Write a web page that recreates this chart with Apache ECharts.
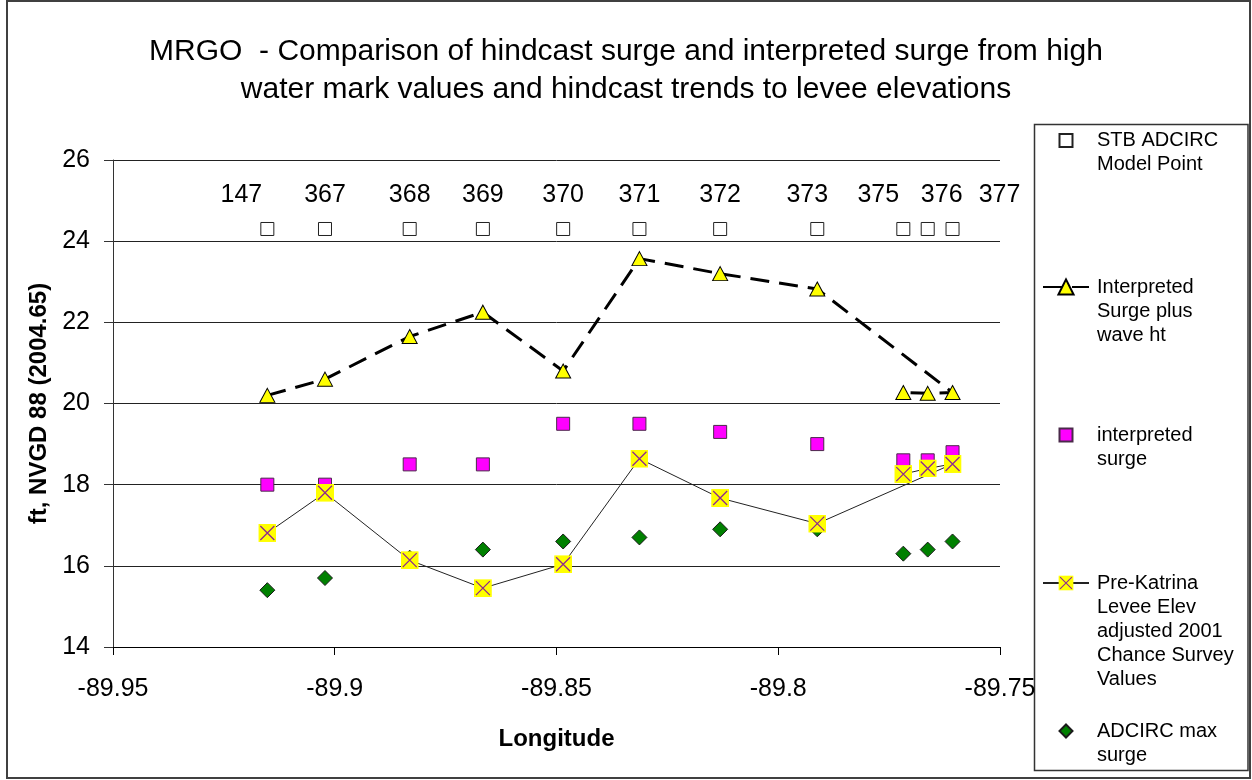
<!DOCTYPE html>
<html>
<head>
<meta charset="utf-8">
<script src="https://cdn.jsdelivr.net/npm/echarts@6/dist/echarts.min.js"></script>
<style>
html,body{margin:0;padding:0;background:#fff;}
#chart{width:1252px;height:780px;}
</style>
</head>
<body>
<div id="chart"></div>
<script>
// ---- data, in spreadsheet order ----
const longitude   = [-89.9152, -89.9022, -89.8831, -89.8666, -89.8485, -89.8313, -89.8131, -89.7912, -89.7607, -89.7663, -89.7718];
const stations    = ['147', '367', '368', '369', '370', '371', '372', '373', '377', '376', '375'];
const stbPoint    = [24.3, 24.3, 24.3, 24.3, 24.3, 24.3, 24.3, 24.3, 24.3, 24.3, 24.3];
const surgeWave   = [20.2, 20.6, 21.65, 22.25, 20.8, 23.57, 23.2, 22.82, 20.27, 20.25, 20.27];
const interpSurge = [18.0, 18.0, 18.5, 18.5, 19.5, 19.5, 19.3, 19.0, 18.8, 18.6, 18.6];
const leveeElev   = [16.81, 17.8, 16.14, 15.45, 16.04, 18.64, 17.67, 17.04, 18.51, 18.4, 18.26];
const adcircMax   = [15.4, 15.7, 16.2, 16.4, 16.6, 16.7, 16.9, 16.9, 16.6, 16.4, 16.3];
const seriesNames = [
  'STB ADCIRC\nModel Point',
  'Interpreted\nSurge plus\nwave ht',
  'interpreted\nsurge',
  'Pre-Katrina\nLevee Elev\nadjusted 2001\nChance Survey\nValues',
  'ADCIRC max\nsurge'
];
const titleText = 'MRGO  - Comparison of hindcast surge and interpreted surge from high\nwater mark values and hindcast trends to levee elevations';

// ---- styling helpers ----
const FONT = '"Liberation Sans", Arial, sans-serif';
const labelShift = {'147': -26, '373': -10, '375': -25, '376': 14, '377': 47};
const pairs = arr => longitude.map((x, i) => [x, arr[i]]);

const xSvg = "<svg xmlns='http://www.w3.org/2000/svg' width='18' height='18' viewBox='0 0 18 18'>" +
  "<rect x='0' y='0' width='18' height='18' fill='#FFFF00'/>" +
  "<path d='M2 2 L16 16 M16 2 L2 16' stroke='#8E2A8E' stroke-width='1.3' fill='none'/></svg>";
const xSymbol = 'image://data:image/svg+xml;charset=utf-8,' + encodeURIComponent(xSvg);

const LH = 24;
const TEXT_X = 1096;
function padText(name) {
  const n = name.split('\n').length;
  return '\n'.repeat(n - 1) + name;
}
const iconCenters = [140.5, 287, 435, 583, 731];
function legendFor(i, isLine) {
  const n = seriesNames[i].split('\n').length;
  const w = isLine ? 46 : 13;
  const left = isLine ? 1042 : 1065 - w / 2;
  const padLeft = TEXT_X - (left + w + 5);
  return {
    data: [seriesNames[i]],
    orient: 'vertical',
    left: left,
    top: iconCenters[i] - (2 * n - 1) * LH / 2,
    padding: 0,
    itemWidth: w,
    itemHeight: isLine ? 19 : 13,
    selectedMode: false,
    formatter: name => padText(name),
    textStyle: { fontFamily: FONT, fontSize: 20, lineHeight: LH, color: '#000', padding: [0, 0, 0, padLeft] }
  };
}

const chart = echarts.init(document.getElementById('chart'), null, { renderer: 'canvas' });
chart.setOption({
  animation: false,
  backgroundColor: '#fff',
  title: {
    text: titleText,
    left: 'center',
    top: 28,
    textStyle: { fontFamily: FONT, fontSize: 30, fontWeight: 'normal', lineHeight: 38, color: '#000' }
  },
  legend: [legendFor(0, false), legendFor(1, true), legendFor(2, false), legendFor(3, true), legendFor(4, false)],
  grid: { left: 113, top: 160, width: 887, height: 487, containLabel: false },
  xAxis: {
    type: 'value',
    min: -89.95, max: -89.75, interval: 0.05,
    name: 'Longitude',
    nameLocation: 'middle',
    nameGap: 80,
    nameTextStyle: { fontFamily: FONT, fontSize: 24, fontWeight: 'bold', color: '#000' },
    axisLine: { show: true, onZero: false, lineStyle: { color: '#000', width: 1 } },
    axisTick: { show: true, inside: false, length: 8, lineStyle: { color: '#000' } },
    axisLabel: { fontFamily: FONT, fontSize: 25, color: '#000', margin: 30,
      formatter: v => String(+v.toFixed(2)) },
    splitLine: { show: false }
  },
  yAxis: {
    type: 'value',
    min: 14, max: 26, interval: 2,
    name: 'ft, NVGD 88 (2004.65)',
    nameLocation: 'middle',
    nameRotate: 90,
    nameGap: 58,
    nameTextStyle: { fontFamily: FONT, fontSize: 24, fontWeight: 'bold', color: '#000' },
    axisLine: { show: true, lineStyle: { color: '#333', width: 1 } },
    axisTick: { show: true, inside: false, length: 9, lineStyle: { color: '#333' } },
    axisLabel: { fontFamily: FONT, fontSize: 25, color: '#000', margin: 23 },
    splitLine: { show: true, lineStyle: { color: '#222', width: 1 } }
  },
  series: [
    {
      name: seriesNames[0],
      type: 'scatter',
      symbol: 'rect',
      symbolSize: 13,
      itemStyle: { color: '#ffffff', borderColor: '#222', borderWidth: 1, opacity: 1 },
      label: { show: true, position: 'inside', formatter: '{b}', fontFamily: FONT, fontSize: 25, color: '#000' },
      data: longitude.map((x, i) => ({
        name: stations[i],
        value: [x, stbPoint[i]],
        label: { offset: [labelShift[stations[i]] || 0, -34] }
      }))
    },
    {
      name: seriesNames[1],
      type: 'line',
      symbol: 'triangle',
      symbolSize: [15, 14],
      showSymbol: true,
      lineStyle: { color: '#000', width: 3, type: [19, 10] },
      itemStyle: { color: '#FFFF00', borderColor: '#000', borderWidth: 1, opacity: 1 },
      data: pairs(surgeWave)
    },
    {
      name: seriesNames[2],
      type: 'scatter',
      symbol: 'rect',
      symbolSize: 13,
      itemStyle: { color: '#FF00FF', borderColor: '#4a2a4a', borderWidth: 1, opacity: 1 },
      data: pairs(interpSurge)
    },
    {
      name: seriesNames[3],
      type: 'line',
      symbol: xSymbol,
      symbolSize: 18,
      showSymbol: true,
      lineStyle: { color: '#222', width: 1 },
      itemStyle: { color: '#FFFF00', opacity: 1 },
      data: pairs(leveeElev)
    },
    {
      name: seriesNames[4],
      type: 'scatter',
      symbol: 'diamond',
      symbolSize: 15,
      itemStyle: { color: '#008000', borderColor: '#1a1a1a', borderWidth: 1, opacity: 1 },
      data: pairs(adcircMax)
    }
  ],
  graphic: [
    { type: 'rect', silent: true, z: -1,
      shape: { x: 7, y: 1, width: 1243, height: 777 },
      style: { fill: null, stroke: '#404040', lineWidth: 2 } },
    { type: 'rect', silent: true, z: -1,
      shape: { x: 1034.5, y: 124.5, width: 213.5, height: 646 },
      style: { fill: null, stroke: '#333', lineWidth: 1.5 } }
  ]
});
</script>
</body>
</html>
